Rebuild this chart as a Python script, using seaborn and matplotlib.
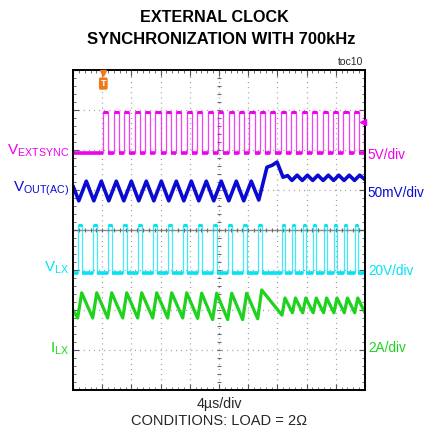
import numpy as np
import pandas as pd
import matplotlib
matplotlib.use("Agg")
import matplotlib.pyplot as plt
import seaborn as sns
from matplotlib.ticker import MultipleLocator

# ---------------- data (time in us, 4 us/div ; levels in divisions, 0 = bottom, 8 = top)
sync_rise = [4.15, 5.58, 7.01, 8.44, 9.87, 11.30, 12.73, 14.16, 15.59, 17.02, 18.45, 19.88, 21.31,
             22.74, 24.17, 25.60, 27.03, 28.46, 29.89, 31.32, 32.75, 34.18, 35.61, 37.04, 38.47, 39.90]
sync_fall = [4.85, 6.28, 7.71, 9.14, 10.57, 12.00, 13.43, 14.86, 16.29, 17.72, 19.15, 20.58, 22.01,
             23.44, 24.87, 26.30, 27.73, 29.16, 30.59, 32.02, 33.45, 34.88, 36.31, 37.74, 39.17]
sync_low, sync_high = 5.93, 6.95
sync_trig_level = 6.70

vout_t = [0.00, 0.79, 1.82, 2.85, 3.88, 4.90, 5.93, 6.96, 7.99, 9.01, 10.04, 11.07, 12.10, 13.12,
          14.15, 15.18, 16.21, 17.23, 18.26, 19.28, 20.31, 21.34, 22.37, 23.39, 24.42, 25.45,
          26.57, 27.30, 27.95, 28.77, 29.40, 29.99, 30.70, 31.41, 32.12, 32.84, 33.55, 34.27,
          34.98, 35.70, 36.41, 37.13, 37.84, 38.56, 39.27, 40.00]
vout_v = [5.10, 4.73, 5.22, 4.73, 5.22, 4.73, 5.22, 4.73, 5.22, 4.73, 5.22, 4.73, 5.22, 4.73,
          5.22, 4.73, 5.22, 4.73, 5.22, 4.73, 5.22, 4.73, 5.22, 4.73, 5.22, 4.75,
          5.57, 5.62, 5.70, 5.32, 5.36, 5.24, 5.37, 5.24, 5.37, 5.24, 5.37, 5.24,
          5.37, 5.24, 5.37, 5.24, 5.37, 5.24, 5.37, 5.26]

lx_rise = [0.71, 2.77, 4.82, 6.88, 8.93, 10.99, 13.04, 15.10, 17.15, 19.20, 21.26, 23.31, 25.37,
           28.62, 30.05, 31.47, 32.90, 34.32, 35.74, 37.17, 38.59]
lx_fall = [1.19, 3.25, 5.30, 7.36, 9.41, 11.47, 13.52, 15.58, 17.63, 19.68, 21.74, 23.79, 25.85,
           29.04, 30.47, 31.89, 33.32, 34.74, 36.16, 37.59, 39.01]
lx_low, lx_high = 2.93, 4.13

il_t = [0.00, 0.64, 1.19, 2.70, 3.25, 4.75, 5.30, 6.81, 7.36, 8.86, 9.41, 10.92, 11.47, 12.97,
        13.52, 15.03, 15.58, 17.08, 17.63, 19.13, 19.68, 21.19, 21.74, 23.24, 23.79, 25.30,
        25.85, 28.63, 29.04, 30.05, 30.47, 31.47, 31.89, 32.90, 33.32, 34.32, 34.74, 35.74,
        36.16, 37.17, 37.59, 38.59, 39.01, 40.00]
il_v = [2.00, 1.80, 2.43, 1.80, 2.43, 1.80, 2.43, 1.80, 2.43, 1.80, 2.43, 1.80, 2.43, 1.80,
        2.43, 1.80, 2.43, 1.79, 2.42, 1.76, 2.42, 1.76, 2.42, 1.76, 2.42, 1.78,
        2.50, 1.87, 2.30, 1.93, 2.30, 1.93, 2.30, 1.93, 2.30, 1.93, 2.30, 1.93,
        2.30, 1.93, 2.30, 1.93, 2.30, 1.93]

title_lines = ["EXTERNAL CLOCK", "SYNCHRONIZATION WITH 700kHz"]
left_labels = [(r"$\mathrm{V_{EXTSYNC}}$", 5.98), (r"$\mathrm{V_{OUT(AC)}}$", 5.03),
               (r"$\mathrm{V_{LX}}$", 3.05), (r"$\mathrm{I_{LX}}$", 1.03)]
right_labels = [("5V/div", 5.88), ("50mV/div", 4.93), ("20V/div", 2.98), ("2A/div", 1.05)]

C_SYNC, C_OUT, C_LX, C_IL = "#F000F0", "#0A0AD2", "#00E4F4", "#1ED21E"
ORANGE = "#F07A1A"

# ---------------- style
sns.set_style("white")
FONT = ["Liberation Sans", "DejaVu Sans"]
plt.rcParams["font.family"] = FONT
plt.rcParams["mathtext.fontset"] = "custom"
plt.rcParams["mathtext.rm"] = "Liberation Sans"
plt.rcParams["mathtext.it"] = "Liberation Sans"


def square(rises, falls, lo, hi, t0=0.0, t1=40.0):
    t, v = [t0], [lo]
    lows, highs = [], []
    prev = t0
    for i, r in enumerate(rises):
        lows.append((prev, r))
        t += [r, r]
        v += [lo, hi]
        if i < len(falls):
            f = falls[i]
            highs.append((r, f))
            t += [f, f]
            v += [hi, lo]
            prev = f
        else:
            highs.append((r, t1))
            prev = None
    if prev is not None:
        lows.append((prev, t1))
        t.append(t1); v.append(lo)
    else:
        t.append(t1); v.append(hi)
    return pd.DataFrame({"t": t, "v": v}), lows, highs


fig = plt.figure(figsize=(4.26, 4.33), dpi=100)
ax = fig.add_axes([73 / 426, 1 - 390 / 433, 292 / 426, 320 / 433])
ax.set_xlim(0, 40)
ax.set_ylim(0, 8)

# grid
grid_kw = dict(color="#8a8a8a", lw=0.9, dashes=(0.7, 3.4), zorder=0)
for gx in np.arange(4, 40, 4):
    ax.axvline(gx, **grid_kw)
for gy in np.arange(1, 8, 1):
    if gy == 4:
        ax.axhline(gy, color="#8a8a8a", lw=1.0, zorder=0)
    else:
        ax.axhline(gy, **grid_kw)
# center-line tick marks
ax.plot(np.arange(0.8, 40, 0.8), np.full(49, 4.0), ls="none", marker="|", ms=3.5,
        mew=0.8, color="#6a6a6a", zorder=0)
ax.plot(np.full(39, 20.0), np.arange(0.2, 8, 0.2), ls="none", marker="_", ms=3.5,
        mew=0.8, color="#6a6a6a", zorder=0)

# traces
def draw_square(rises, falls, lo, hi, color):
    df, lows, highs = square(rises, falls, lo, hi)
    sns.lineplot(data=df, x="t", y="v", sort=False, estimator=None, color=color, lw=0.9,
                 alpha=0.75, ax=ax)
    ax.hlines([lo] * len(lows), [a for a, b in lows], [b for a, b in lows], color=color, lw=2.6)
    ax.hlines([hi] * len(highs), [a for a, b in highs], [b for a, b in highs], color=color, lw=2.2)

draw_square(sync_rise, sync_fall, sync_low, sync_high, C_SYNC)
draw_square(lx_rise, lx_fall, lx_low, lx_high, C_LX)
sns.lineplot(x=vout_t, y=vout_v, sort=False, estimator=None, color=C_OUT, lw=2.6, ax=ax)
sns.lineplot(x=il_t, y=il_v, sort=False, estimator=None, color=C_IL, lw=2.3, ax=ax)

# markers
ax.plot([sync_rise[0]], [7.93], marker="v", color=ORANGE, ms=4, clip_on=False, zorder=5)
ax.text(sync_rise[0], 7.66, "T", ha="center", va="center", color="white", fontsize=6.5,
        fontweight="bold", bbox=dict(boxstyle="round,pad=0.18", fc=ORANGE, ec="none"))
ax.plot([39.75], [sync_trig_level], marker="<", color=C_SYNC, ms=4.5, clip_on=False, zorder=5)

# axes frame & ticks
ax.set_xlabel(""); ax.set_ylabel("")
ax.xaxis.set_major_locator(MultipleLocator(4))
ax.yaxis.set_major_locator(MultipleLocator(1))
ax.xaxis.set_minor_locator(MultipleLocator(0.8))
ax.yaxis.set_minor_locator(MultipleLocator(0.2))
ax.tick_params(which="both", direction="in", top=True, right=True, bottom=True, left=True,
               labelbottom=False, labelleft=False, color="#555555")
ax.tick_params(which="major", length=4, width=0.8)
ax.tick_params(which="minor", length=2.5, width=0.6)
for s in ax.spines.values():
    s.set_color("black")
    s.set_linewidth(1.4)

# texts
fig.text(214 / 426, 1 - 17 / 433, title_lines[0], ha="center", va="center",
         fontsize=11.6, fontweight="bold", color="black")
fig.text(221 / 426, 1 - 40 / 433, title_lines[1], ha="center", va="center",
         fontsize=12.0, fontweight="bold", color="black")
fig.text(363 / 426, 1 - 62 / 433, "toc10", ha="right", va="center", fontsize=7.5)
fig.text(219 / 426, 1 - 404 / 433, "4µs/div", ha="center", va="center", fontsize=10.2)
fig.text(219 / 426, 1 - 421 / 433, "CONDITIONS: LOAD = 2Ω", ha="center", va="center",
         fontsize=10.5)

colors = [C_SYNC, C_OUT, C_LX, C_IL]
for (lab, y), c in zip(left_labels, colors):
    ax.text(-0.012, y, lab, transform=ax.get_yaxis_transform(), ha="right", va="center",
            fontsize=11, color=c)
for (lab, y), c in zip(right_labels, colors):
    ax.text(1.01, y, lab, transform=ax.get_yaxis_transform(), ha="left", va="center",
            fontsize=9.8, color=c)

fig.savefig("out.png", dpi=100)
